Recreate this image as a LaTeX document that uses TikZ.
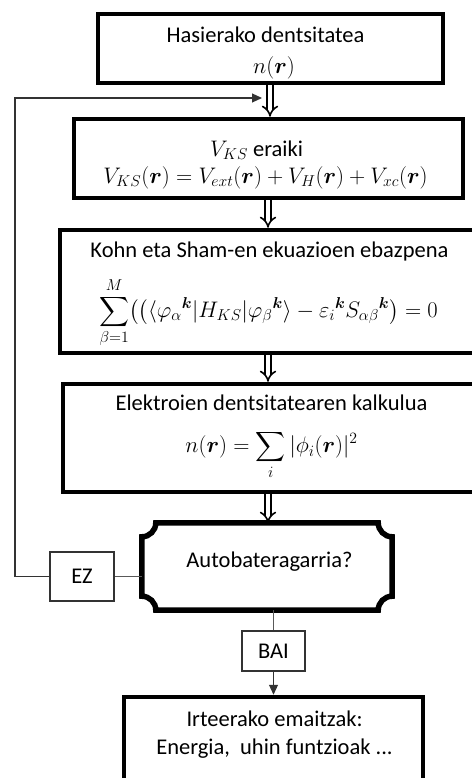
\RequirePackage{fix-cm}
\documentclass[tikz,border=0pt]{standalone}
\usepackage{amsmath}
\usepackage{fontspec}
\setmainfont{Carlito}
\usetikzlibrary{arrows.meta,calc}
\newcommand{\rr}{\boldsymbol{r}}
\newcommand{\kk}{\boldsymbol{k}}
\begin{document}
\begin{tikzpicture}[x=1pt,y=-1pt,
  bigbox/.style={draw=black, line width=4.5pt, inner sep=0pt},
  smallbox/.style={draw=black!80, line width=1.2pt, inner sep=0pt, fill=white},
  txt/.style={inner sep=0pt, font=\fontsize{22.5}{26}\selectfont},
  dblarrow/.style={double, double distance=4pt, line width=1.6pt, -{Implies[length=9pt,width=20pt]}},
  thin/.style={draw=black!65, line width=1.1pt},
  arr/.style={thin, -{Triangle[length=10pt,width=9pt]}, draw=black!80}]
\useasboundingbox (0,0) rectangle (471,778);
% boxes
\node[bigbox, minimum width=345pt, minimum height=69pt] (b1) at (270.5,48.5) {};
\node[bigbox, minimum width=389pt, minimum height=79pt] (b2) at (268.5,158.5) {};
\node[bigbox, minimum width=420pt, minimum height=123pt] (b3) at (270,291.5) {};
\node[bigbox, minimum width=414pt, minimum height=108pt] (b4) at (270,438) {};
\node[inner sep=0pt, minimum width=250pt, minimum height=87pt] (dec) at (267,566.5) {};
\node[bigbox, minimum width=299pt, minimum height=86pt] (b5) at (273.5,740) {};
% texts
\node[txt] (t1a) at (265.5,35) {Hasierako dentsitatea};
\node[txt] (t1b) at (274,68) {$n(\rr)$};
\node[txt] (t2a) at (256.5,150) {$V_{KS}$ eraiki};
\node[txt] (t2b) at (265.5,178) {$V_{KS}(\rr)=V_{ext}(\rr)+V_{H}(\rr)+V_{xc}(\rr)$};
\node[txt] (t3a) at (269.5,251) {Kohn eta Sham-en ekuazioen ebazpena};
\node[txt] (t3b) at (268.5,313) {$\displaystyle\sum_{\beta=1}^{M}\bigl(\bigl(\langle\varphi_{\alpha}{}^{\kk}|H_{KS}|\varphi_{\beta}{}^{\kk}\rangle-\varepsilon_{i}{}^{\kk}S_{\alpha\beta}{}^{\kk}\bigr)=0$};
\node[txt] (t4a) at (271.5,403) {Elektroien dentsitatearen kalkulua};
\node[txt] (t4b) at (271.5,455) {$\displaystyle n(\rr)=\sum_{i}|\phi_{i}(\rr)|^{2}$};
\node[txt] (t6) at (269.5,562) {Autobateragarria?};
\node[txt] (t5a) at (274.5,719) {Irteerako emaitzak:};
\node[txt] (t5b) at (274.5,749) {Energia,\ \ uhin funtzioak ...};
% decision plaque
\def\rc{14}
\draw[line width=5.5pt, line join=miter]
  ($(dec.north west)+(\rc,0)$) -- ($(dec.north east)+(-\rc,0)$)
  arc[start angle=180, end angle=270, radius=14pt]
  -- ($(dec.south east)+(0,-\rc)$)
  arc[start angle=90, end angle=180, radius=14pt]
  -- ($(dec.south west)+(\rc,0)$)
  arc[start angle=0, end angle=90, radius=14pt]
  -- ($(dec.north west)+(0,\rc)$)
  arc[start angle=270, end angle=360, radius=14pt] -- cycle;
% small boxes
\node[smallbox, minimum width=64pt, minimum height=49pt, font=\fontsize{22.5}{26}\selectfont] (ez) at (82,576.5) {EZ};
\node[smallbox, minimum width=63pt, minimum height=40pt, font=\fontsize{22.5}{26}\selectfont] (bai) at (273.5,651) {BAI};
% double arrows
\draw[dblarrow] (b1.south -| 270,0) -- (b2.north -| 270,0);
\draw[dblarrow] (b2.south -| 268,0) -- (b3.north -| 268,0);
\draw[dblarrow] (b3.south -| 268,0) -- (b4.north -| 268,0);
\draw[dblarrow] (b4.south -| 268,0) -- (dec.north -| 268,0);
% connectors
\coordinate (fb) at (262,98);
\draw[thin] (ez.east) -- (ez.east -| dec.west);
\draw[arr] (ez.west) -| (15,98) -- (fb);
\draw[thin] (bai.north |- dec.south) -- (bai.north);
\draw[arr] (bai.south) -- (b5.north -| bai.south);
\end{tikzpicture}
\end{document}
